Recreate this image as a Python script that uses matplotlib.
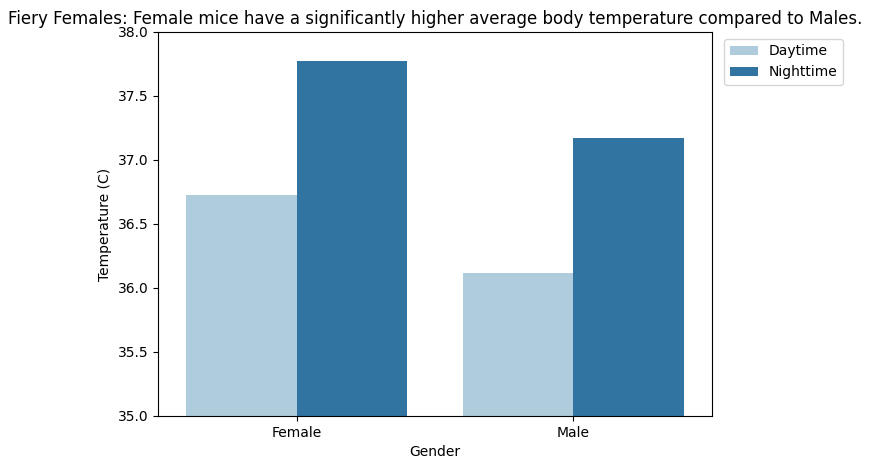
import matplotlib
matplotlib.use("Agg")
import matplotlib.pyplot as plt
import pandas as pd
import seaborn as sns

genders = ["Female", "Female", "Male", "Male"]
periods = ["Daytime", "Nighttime", "Daytime", "Nighttime"]
temps = [36.73, 37.77, 36.12, 37.17]

df = pd.DataFrame({"Gender": genders, "Period": periods, "Temperature": temps})

fig = plt.figure(figsize=(8.74, 4.7), dpi=100)
ax = fig.add_axes([0.1808, 0.115, 0.6338, 0.817])
sns.barplot(data=df, x="Gender", y="Temperature", hue="Period",
            palette="Paired", ax=ax)
ax.set_ylim(35.0, 38.0)
ax.set_ylabel("Temperature (C)")
ax.set_xlabel("Gender")
ax.set_title("Fiery Females: Female mice have a significantly higher average body temperature compared to Males.")
ax.legend(title=None, loc="upper left", bbox_to_anchor=(1.01, 1))
fig.savefig("out.png", dpi=100)
